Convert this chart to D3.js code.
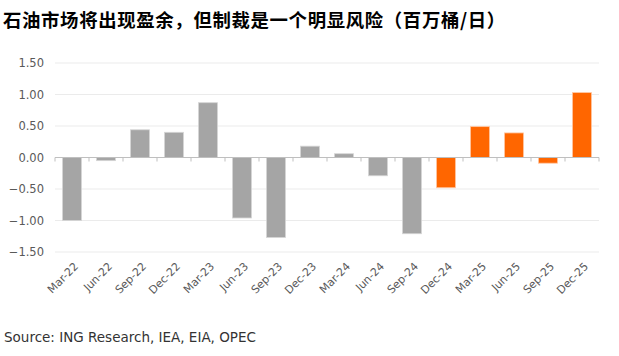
<!DOCTYPE html>
<html><head><meta charset="utf-8">
<script src="https://cdn.jsdelivr.net/npm/d3@7"></script>
<style>body{margin:0;background:#fff;}svg{display:block;}</style>
</head><body>
<svg id="c" width="619" height="356"></svg>
<script>
const categories = ["Mar-22","Jun-22","Sep-22","Dec-22","Mar-23","Jun-23","Sep-23","Dec-23","Mar-24","Jun-24","Sep-24","Dec-24","Mar-25","Jun-25","Sep-25","Dec-25"];
const values = [-1.00,-0.05,0.44,0.40,0.87,-0.96,-1.27,0.18,0.06,-0.29,-1.21,-0.48,0.49,0.39,-0.09,1.03];
const isForecast = [false,false,false,false,false,false,false,false,false,false,false,true,true,true,true,true];
const yTicks = [-1.5,-1.0,-0.5,0,0.5,1.0,1.5];
const title = "石油市场将出现盈余，但制裁是一个明显风险（百万桶/日）";
const source = "Source: ING Research, IEA, EIA, OPEC";

const svg = d3.select("#c");
const mLeft = 55, mRight = 599, mTop = 63, mBottom = 252;
const x = d3.scaleBand().domain(categories).range([mLeft, mRight]).paddingInner(0.44).paddingOuter(0.22);
const y = d3.scaleLinear().domain([-1.5, 1.5]).range([mBottom, mTop]);

svg.append("text").attr("x", 3).attr("y", 27).text(title)
  .attr("font-family","'Noto Sans CJK SC', sans-serif").attr("font-weight","bold")
  .attr("font-size","18.4px").attr("letter-spacing","0.65px").attr("fill","#000");

// gridlines
svg.append("g").selectAll("line").data(yTicks.filter(d=>d!==0)).join("line")
  .attr("x1", mLeft).attr("x2", mRight).attr("y1", d=>y(d)).attr("y2", d=>y(d))
  .attr("stroke","#ebebeb").attr("stroke-width",1);

// y axis labels
const yAxis = d3.axisLeft(y).tickValues(yTicks).tickFormat(d3.format(".2f")).tickSize(0).tickPadding(11);
const yg = svg.append("g").attr("transform",`translate(${mLeft},0)`).call(yAxis);
yg.select(".domain").remove();
yg.selectAll("text").attr("font-family","'DejaVu Sans', sans-serif").attr("font-size","11.5px").attr("fill","#595959").attr("text-anchor","end");

// bars
svg.append("g").selectAll("rect").data(categories).join("rect")
  .attr("x", d=>x(d)).attr("width", x.bandwidth())
  .attr("y", (d,i)=>y(Math.max(0,values[i])))
  .attr("height", (d,i)=>Math.abs(y(values[i])-y(0)))
  .attr("fill", (d,i)=>isForecast[i] ? "#ff6600" : "#a5a5a5")
  .attr("stroke", (d,i)=>isForecast[i] ? "#ffc7a3" : "#d6d6d6").attr("stroke-width",0.8);

// zero axis with ticks between categories
const zg = svg.append("g");
zg.append("line").attr("x1",mLeft).attr("x2",mRight).attr("y1",y(0)).attr("y2",y(0)).attr("stroke","#bfbfbf").attr("stroke-width",1);
const step = x.step();
zg.selectAll("line.t").data(d3.range(categories.length+1)).join("line").attr("class","t")
  .attr("x1", i=>mLeft+i*step).attr("x2", i=>mLeft+i*step)
  .attr("y1", y(0)).attr("y2", y(0)+4).attr("stroke","#bfbfbf");

// x labels
svg.append("g").selectAll("text").data(categories).join("text")
  .attr("transform", d=>`translate(${x(d)+x.bandwidth()/2+7},${mBottom+15}) rotate(-45)`)
  .attr("text-anchor","end").attr("font-family","'DejaVu Sans', sans-serif")
  .attr("font-size","11px").attr("fill","#595959").text(d=>d);

svg.append("text").attr("x", 4).attr("y", 342).text(source)
  .attr("font-family","'DejaVu Sans', sans-serif").attr("font-size","13.5px").attr("fill","#333");
</script>
</body></html>
